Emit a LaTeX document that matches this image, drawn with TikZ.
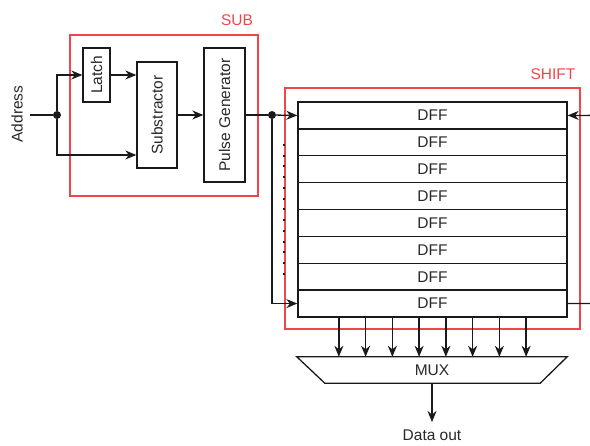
\documentclass[tikz,border=0pt]{standalone}
\usepackage{fontspec}
\setmainfont{Liberation Sans}
\usetikzlibrary{arrows.meta,calc}
\definecolor{lineblk}{RGB}{26,26,26}
\definecolor{txtgray}{RGB}{40,40,40}
\definecolor{boxred}{RGB}{240,70,75}
\begin{document}
\begin{tikzpicture}[x=1pt,y=-1pt,
  every node/.style={font=\fontsize{15.5}{17}\selectfont, text=txtgray, inner sep=0pt},
  wire/.style={draw=lineblk, line width=1.3pt},
  arr/.style={wire, -{Stealth[length=11pt,width=9pt,inset=3.5pt]}},
  blk/.style={draw=lineblk, line width=1.3pt, fill=white, rectangle},
  vblk/.style={blk, rotate=90},
  dff/.style={blk, minimum width=269pt, minimum height=26.875pt},
  redbox/.style={draw=boxred, line width=1.3pt, rectangle},
  redlbl/.style={text=boxred},
  jdot/.style={circle, fill=lineblk, minimum size=8pt, inner sep=0pt}
]
\useasboundingbox (0,0) rectangle (590,446);

% red frames
\node[redbox, minimum width=188pt, minimum height=161pt] (subframe) at (164,115.5) {};
\node[redbox, minimum width=295pt, minimum height=241pt] (shiftframe) at (432.5,208.5) {};
\node[redlbl] (sublbl) at (237,20) {SUB};
\node[redlbl] (shiftlbl) at (553,74) {SHIFT};

% SUB blocks
\node[rotate=90] (addr) at (17,114) {Address};
\coordinate (ain) at (30,115);
\node[jdot] (dot1) at (57,115) {};
\node[vblk, minimum width=54pt, minimum height=27pt] (latch) at (96.5,75) {Latch};
\node[vblk, minimum width=106pt, minimum height=40pt] (sub) at (157,115) {Substractor};
\node[vblk, minimum width=134pt, minimum height=41pt] (pg) at (224.5,115) {Pulse Generator};

\draw[wire] (ain) -- (dot1);
\draw[arr] (dot1) |- (latch.north);
\draw[arr] (dot1) |- (sub.north |- 0,155);
\draw[arr] (latch.south) -- (latch.south -| sub.north);
\draw[arr] (sub.south) -- (pg.north);

% DFF stack
\foreach \i in {1,...,8}{
  \node[dff] (d\i) at (432.5,{102+(\i-0.5)*26.875}) {DFF};
}
\node[jdot] (dot2) at (272,115) {};
\draw[wire] (pg.south) -- (dot2);
\draw[arr] (dot2) -- (d1.west);
\draw[arr] (dot2) |- (d8.west);
\coordinate (rin) at (590,115.4);
\coordinate (rout) at (590,303.6);
\draw[arr] (rin) -- (d1.east);
\draw[wire] (d8.east) -- (rout);

% dotted marks
\draw[lineblk, line width=2pt, dash pattern=on 2pt off 8.75pt] (283.5,144) -- (283.5,276);

% MUX
\node[minimum width=270pt, minimum height=26pt] (mux) at (432,370) {};
\draw[wire, fill=white] (mux.north west) -- (mux.north east) -- ([xshift=-27pt]mux.south east) -- ([xshift=28pt]mux.south west) -- cycle;
\node (muxlbl) at (mux.center) {MUX};
\foreach \k in {0,...,7}{
  \draw[arr] ([xshift={(\k-3.5)*26.75}]d8.south) -- ([xshift={(\k-3.5)*26.75}]d8.south |- mux.north);
}
\node[anchor=north, text height=18pt] (dout) at (432,422) {Data out};
\draw[arr] (mux.south) -- (dout.north);
\end{tikzpicture}
\end{document}
